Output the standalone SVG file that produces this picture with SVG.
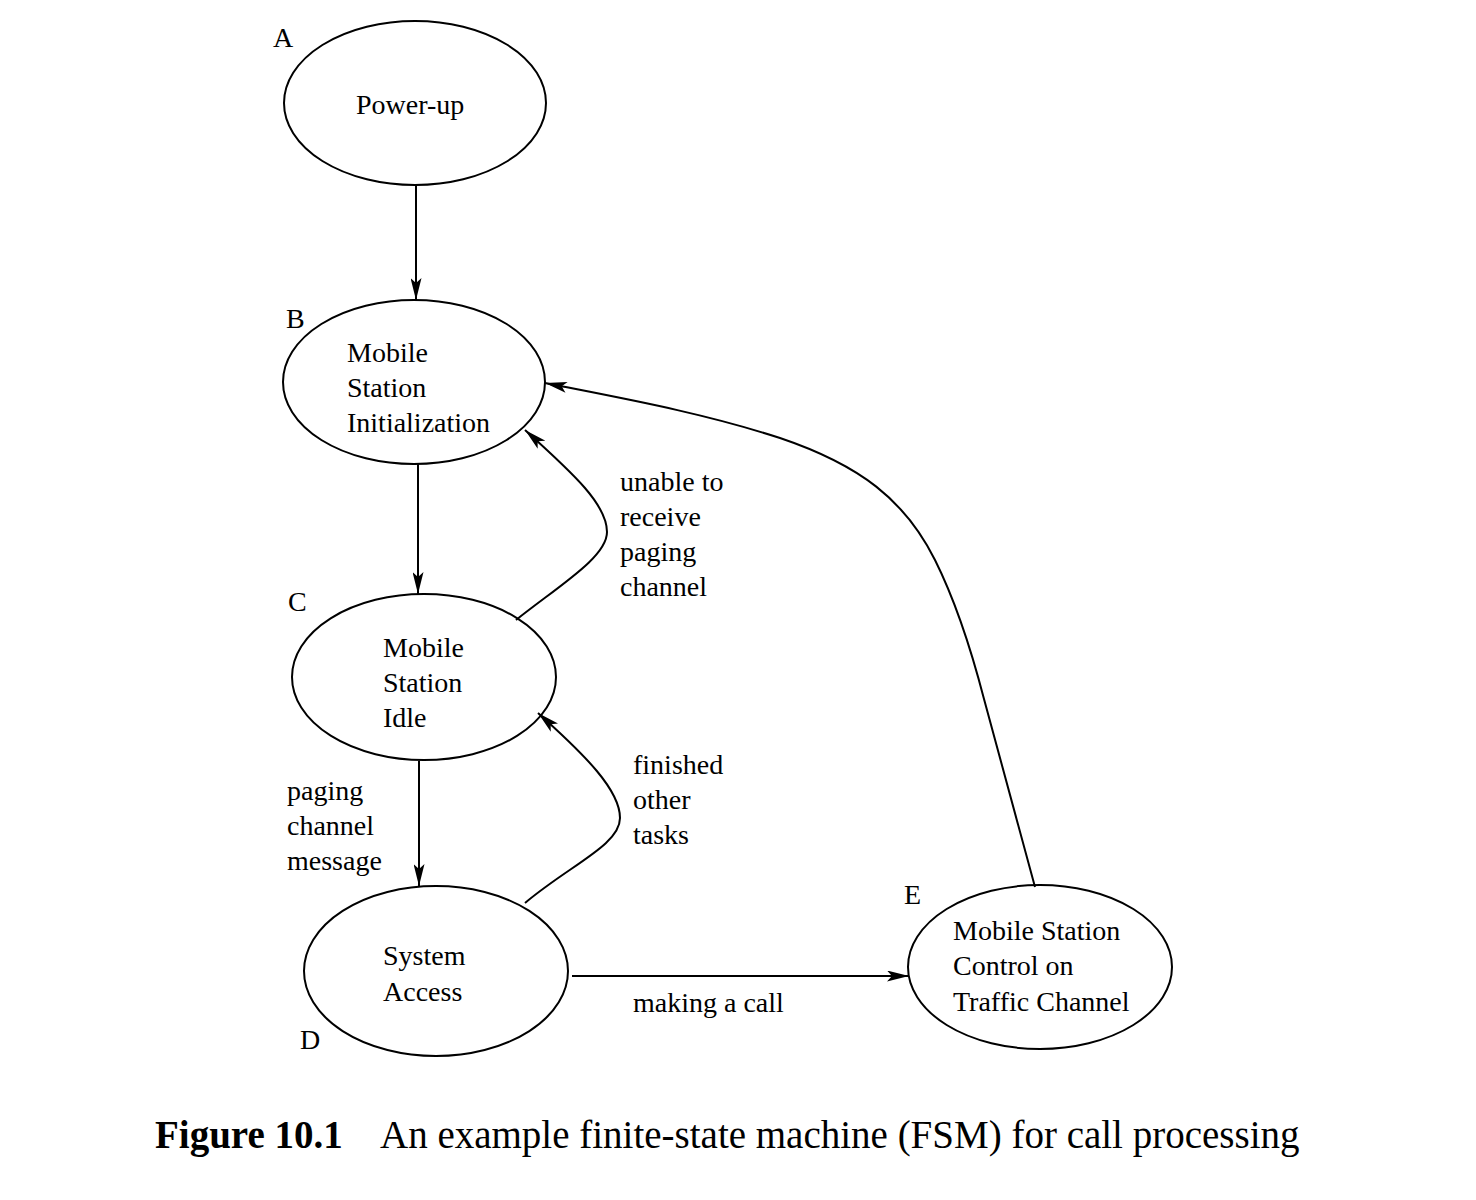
<svg xmlns="http://www.w3.org/2000/svg" width="1476" height="1200" viewBox="0 0 1476 1200">
<defs>
<style>
.n{fill:none;stroke:#000;stroke-width:2}
.c{fill:none;stroke:#000;stroke-width:2}
text{font-family:"Liberation Serif","Times New Roman",serif;font-size:28px;fill:#000}
.cap{font-size:39px}
</style>
<marker id="ah" viewBox="0 0 22 11" refX="22" refY="5.5" markerWidth="22" markerHeight="11" markerUnits="userSpaceOnUse" orient="auto">
<path d="M0,0 L22,5.5 L0,11 L5,5.5 Z" fill="#000"/>
</marker>
</defs>
<rect width="1476" height="1200" fill="#fff"/>
<g id="nodeA">
<ellipse class="n" cx="415" cy="103" rx="131" ry="82"/>
<text x="273" y="47">A</text>
<text x="356" y="114">Power-up</text>
</g>
<g id="nodeB">
<ellipse class="n" cx="414" cy="382" rx="131" ry="82"/>
<text x="286" y="328">B</text>
<text x="347" y="362">Mobile</text>
<text x="347" y="397">Station</text>
<text x="347" y="432">Initialization</text>
</g>
<g id="nodeC">
<ellipse class="n" cx="424" cy="677" rx="132" ry="83"/>
<text x="288" y="611">C</text>
<text x="383" y="657">Mobile</text>
<text x="383" y="692">Station</text>
<text x="383" y="727">Idle</text>
</g>
<g id="nodeD">
<ellipse class="n" cx="436" cy="971" rx="132" ry="85"/>
<text x="300" y="1049">D</text>
<text x="383" y="965">System</text>
<text x="383" y="1001">Access</text>
</g>
<g id="nodeE">
<ellipse class="n" cx="1040" cy="967" rx="132" ry="82"/>
<text x="904" y="904">E</text>
<text x="953" y="940">Mobile Station</text>
<text x="953" y="975">Control on</text>
<text x="953" y="1011">Traffic Channel</text>
</g>
<g id="connectors">
<path class="c" d="M416,185 L416,300" marker-end="url(#ah)"/>
<path class="c" d="M418,464 L418,594" marker-end="url(#ah)"/>
<path class="c" d="M419,761 L419,886" marker-end="url(#ah)"/>
<path class="c" d="M572,976 L909,976" marker-end="url(#ah)"/>
<path class="c" d="M516,620 C560,585 607,557 607,532 C607,505 575,475 525,430" marker-end="url(#ah)"/>
<path class="c" d="M525,903 C570,865 620,845 620,818 C620,790 585,755 538,713" marker-end="url(#ah)"/>
<path class="c" d="M1035,887 L984,699 C970,645 955,600 935,560 C905,500 860,465 780,438 C700,412 620,398 545,383" marker-end="url(#ah)"/>
</g>
<g id="labels">
<text x="620" y="491">unable to</text>
<text x="620" y="526">receive</text>
<text x="620" y="561">paging</text>
<text x="620" y="596">channel</text>
<text x="633" y="774">finished</text>
<text x="633" y="809">other</text>
<text x="633" y="844">tasks</text>
<text x="287" y="800">paging</text>
<text x="287" y="835">channel</text>
<text x="287" y="870">message</text>
<text x="633" y="1012">making a call</text>
</g>
<g id="caption">
<text class="cap" x="155" y="1148"><tspan font-weight="bold">Figure 10.1</tspan><tspan x="380">An example finite-state machine (FSM) for call processing</tspan></text>
</g>
</svg>
